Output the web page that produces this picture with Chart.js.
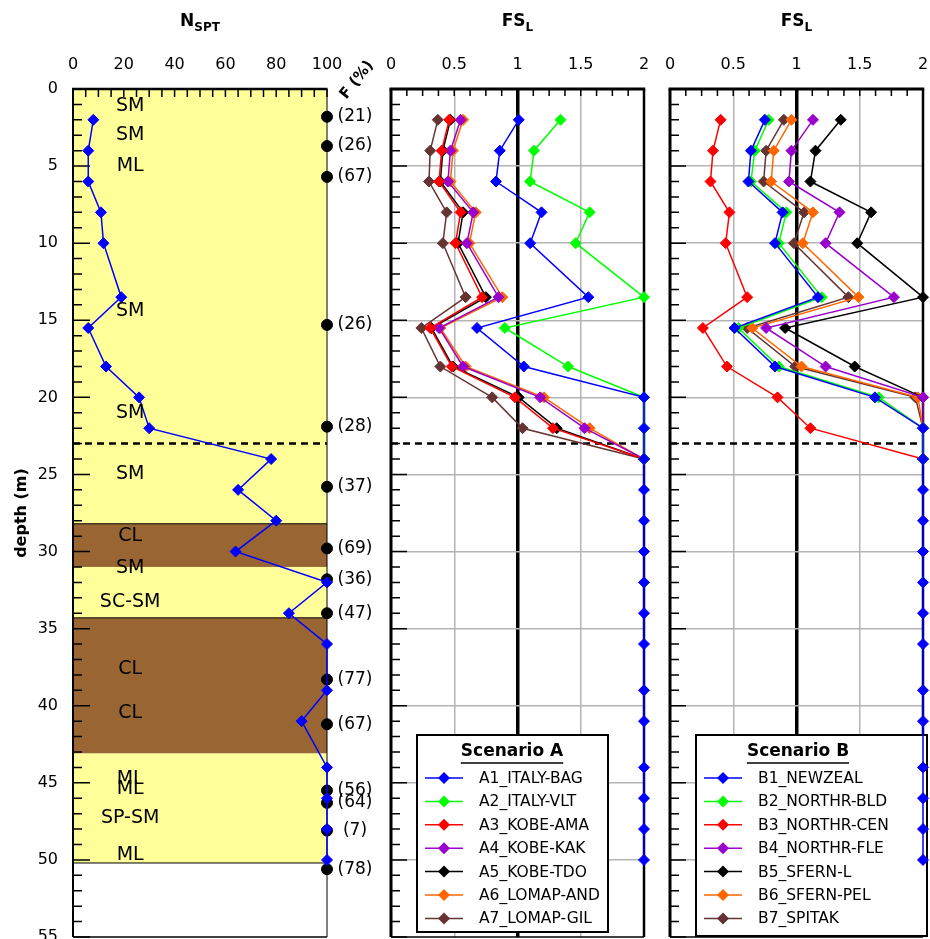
<!DOCTYPE html>
<html>
<head>
<meta charset="utf-8">
<script src="https://cdn.jsdelivr.net/npm/chart.js@4.4.0/dist/chart.umd.min.js"></script>
<style>
  body { margin: 0; background: #fff; }
  #wrap { position: relative; width: 930px; height: 939px; overflow: hidden; }
  #wrap canvas { position: absolute; left: 0; top: 0; }
</style>
</head>
<body>
<div id="wrap">
  <canvas id="c1" width="980" height="980"></canvas>
  <canvas id="c2" width="980" height="980"></canvas>
  <canvas id="c3" width="980" height="980"></canvas>
</div>
<script>
// depths of the SPT / FS_L points (m)
let depths = [2, 4, 6, 8, 10, 13.5, 15.5, 18, 20, 22, 24, 26, 28, 30, 32, 34, 36, 39, 41, 44, 46, 48, 50];
let nspt = [8, 6, 6, 11, 12, 19, 6, 13, 26, 30, 78, 65, 80, 64, 100, 85, 100, 100, 90, 100, 100, 100, 100];

// fines content F (%)
let fDepths = [1.8, 3.7, 5.7, 15.3, 21.9, 25.8, 29.8, 31.8, 34.0, 38.3, 41.2, 45.5, 46.3, 48.1, 50.6];
let fValues = [21, 26, 67, 26, 28, 37, 69, 36, 47, 77, 67, 56, 64, 7, 78];

// soil layers
let layerTop = [0, 28.2, 31.0, 34.3, 43.1];
let layerBottom = [28.2, 31.0, 34.3, 43.1, 50.2];
let layerKind = ['sand', 'clay', 'sand', 'clay', 'sand'];
let soilNames = ['SM', 'SM', 'ML', 'SM', 'SM', 'SM', 'CL', 'SM', 'SC-SM', 'CL', 'CL', 'ML', 'ML', 'SP-SM', 'ML'];
let soilDepths = [1.1, 3.0, 5.0, 14.4, 21.0, 25.0, 29.0, 31.1, 33.25, 37.6, 40.5, 44.75, 45.4, 47.3, 49.7];
let waterTable = 23;

// FS_L, scenario A
let labelsA = ['A1_ITALY-BAG', 'A2_ITALY-VLT', 'A3_KOBE-AMA', 'A4_KOBE-KAK', 'A5_KOBE-TDO', 'A6_LOMAP-AND', 'A7_LOMAP-GIL'];
let a1 = [1.01, 0.86, 0.83, 1.19, 1.10, 1.56, 0.68, 1.05, 2, 2, 2, 2, 2, 2, 2, 2, 2, 2, 2, 2, 2, 2, 2];
let a2 = [1.34, 1.13, 1.10, 1.57, 1.46, 2, 0.90, 1.40, 2, 2, 2];
let a3 = [0.46, 0.40, 0.38, 0.55, 0.51, 0.72, 0.31, 0.48, 0.98, 1.28, 2];
let a4 = [0.55, 0.47, 0.45, 0.65, 0.60, 0.85, 0.38, 0.57, 1.18, 1.53, 2];
let a5 = [0.47, 0.41, 0.39, 0.57, 0.53, 0.75, 0.32, 0.49, 1.01, 1.31, 2];
let a6 = [0.57, 0.49, 0.47, 0.67, 0.62, 0.88, 0.39, 0.59, 1.21, 1.57, 2];
let a7 = [0.37, 0.31, 0.30, 0.44, 0.41, 0.59, 0.24, 0.39, 0.80, 1.04, 2];

// FS_L, scenario B
let labelsB = ['B1_NEWZEAL', 'B2_NORTHR-BLD', 'B3_NORTHR-CEN', 'B4_NORTHR-FLE', 'B5_SFERN-L', 'B6_SFERN-PEL', 'B7_SPITAK'];
let b1 = [0.75, 0.64, 0.62, 0.89, 0.83, 1.17, 0.51, 0.83, 1.62, 2, 2, 2, 2, 2, 2, 2, 2, 2, 2, 2, 2, 2, 2];
let b2 = [0.78, 0.67, 0.64, 0.92, 0.86, 1.20, 0.54, 0.86, 1.65, 2, 2];
let b3 = [0.40, 0.34, 0.32, 0.47, 0.44, 0.61, 0.26, 0.45, 0.85, 1.11, 2];
let b4 = [1.13, 0.96, 0.94, 1.34, 1.23, 1.77, 0.76, 1.23, 2, 2, 2];
let b5 = [1.35, 1.15, 1.11, 1.59, 1.48, 2, 0.91, 1.46, 2, 2, 2];
let b6 = [0.96, 0.82, 0.80, 1.13, 1.05, 1.49, 0.65, 1.04, 1.96, 2, 2];
let b7 = [0.90, 0.76, 0.74, 1.06, 0.98, 1.41, 0.61, 0.99, 1.94, 2, 2];

let xTicksN = [0, 20, 40, 60, 80, 100];
let xTicksFS = [0, 0.5, 1, 1.5, 2];
let yTicks = [0, 5, 10, 15, 20, 25, 30, 35, 40, 45, 50, 55];

let seriesColors = ['#0000ff', '#00ff00', '#ff0000', '#9900cc', '#000000', '#ff6600', '#663333'];
let FONT = "'DejaVu Sans'";
// canvases are bigger than the window so edge labels can be cut like the original
let CANVAS_W = 980;
let CANVAS_H = 980;
let PLOT_BOTTOM = 937;

Chart.defaults.font.family = FONT;
Chart.defaults.color = '#000';

function toPoints(vals) {
	return vals.map((v, i) => ({ x: v, y: depths[i] }));
}

function fsDataset(label, vals, color) {
	return {
		label: label,
		data: toPoints(vals),
		showLine: true,
		borderColor: color,
		backgroundColor: color,
		borderWidth: 1.5,
		pointStyle: 'rectRot',
		pointRadius: 5.5,
		pointBorderWidth: 1,
		clip: false
	};
}

// ---- plugins ----
let soilLayers = {
	id: 'soilLayers',
	beforeDatasetsDraw(chart) {
		let { ctx, chartArea: a, scales: { y } } = chart;
		ctx.save();
		for (let i = 0; i < layerTop.length; i++) {
			let y0 = y.getPixelForValue(layerTop[i]);
			let y1 = y.getPixelForValue(layerBottom[i]);
			ctx.fillStyle = layerKind[i] == 'clay' ? '#996633' : '#ffff99';
			ctx.fillRect(a.left, y0, a.right - a.left, y1 - y0);
		}
		ctx.strokeStyle = '#000';
		ctx.lineWidth = 1;
		[28.2, 34.3, 50.2].forEach(d => {
			let py = y.getPixelForValue(d);
			ctx.beginPath(); ctx.moveTo(a.left, py); ctx.lineTo(a.right, py); ctx.stroke();
		});
		ctx.restore();
	}
};

let innerTicks = {
	id: 'innerTicks',
	beforeDatasetsDraw(chart, args, o) {
		let { ctx, chartArea: a, scales: { x, y } } = chart;
		ctx.save();
		ctx.strokeStyle = '#000';
		ctx.lineWidth = 1.5;
		ctx.beginPath();
		for (let v = x.min; v <= x.max + 1e-9; v += o.xStep) {
			let px = x.getPixelForValue(v);
			ctx.moveTo(px, a.top); ctx.lineTo(px, a.top + o.xLen);
		}
		for (let d = y.min; d <= y.max + 1e-9; d += 1) {
			let py = y.getPixelForValue(d);
			let len = d % 5 == 0 ? o.yMajor : o.yMinor;
			ctx.moveTo(a.left, py); ctx.lineTo(a.left + len, py);
		}
		ctx.stroke();
		ctx.restore();
	}
};

let frame = {
	id: 'frame',
	beforeDatasetsDraw(chart, args, o) {
		let { ctx, chartArea: a } = chart;
		ctx.save();
		ctx.strokeStyle = '#000';
		let side = (w, x0, y0, x1, y1) => {
			ctx.lineWidth = w;
			ctx.beginPath(); ctx.moveTo(x0, y0); ctx.lineTo(x1, y1); ctx.stroke();
		};
		side(o.top, a.left - o.left / 2, a.top, a.right + o.right / 2, a.top);
		side(o.left, a.left, a.top, a.left, a.bottom);
		side(o.right, a.right, a.top, a.right, a.bottom);
		side(o.bottom, a.left, a.bottom, a.right, a.bottom);
		// water table
		let py = chart.scales.y.getPixelForValue(waterTable);
		ctx.setLineDash([7, 5]);
		side(2.5, a.left, py, a.right, py);
		ctx.restore();
	}
};

let panelTitle = {
	id: 'panelTitle',
	afterDraw(chart, args, o) {
		let { ctx, chartArea: a } = chart;
		ctx.save();
		ctx.fillStyle = '#000';
		ctx.textBaseline = 'alphabetic';
		ctx.font = 'bold 17px ' + FONT;
		let w1 = ctx.measureText(o.main).width;
		ctx.font = 'bold 12px ' + FONT;
		let w2 = ctx.measureText(o.sub).width;
		let x0 = (a.left + a.right) / 2 - (w1 + w2) / 2;
		ctx.textAlign = 'left';
		ctx.font = 'bold 17px ' + FONT;
		ctx.fillText(o.main, x0, 26);
		ctx.font = 'bold 12px ' + FONT;
		ctx.fillText(o.sub, x0 + w1, 31);
		ctx.restore();
	}
};

let nsptLabels = {
	id: 'nsptLabels',
	afterDatasetsDraw(chart) {
		let { ctx, chartArea: a, scales: { x, y } } = chart;
		ctx.save();
		ctx.fillStyle = '#000';
		ctx.textAlign = 'center';
		ctx.textBaseline = 'middle';
		ctx.font = '19px ' + FONT;
		soilNames.forEach((s, i) => {
			ctx.fillText(s, x.getPixelForValue(22.5), y.getPixelForValue(soilDepths[i]));
		});
		ctx.font = '17px ' + FONT;
		fValues.forEach((f, i) => {
			ctx.fillText('(' + f + ')', x.getPixelForValue(100) + 28, y.getPixelForValue(fDepths[i]));
		});
		// F (%) header
		ctx.font = 'bold 15px ' + FONT;
		ctx.translate(a.right + 30, a.top - 9);
		ctx.rotate(-0.9);
		ctx.fillText('F (%)', 0, 0);
		ctx.restore();
	}
};

let boxLegend = {
	id: 'boxLegend',
	beforeDatasetsDraw(chart, args, o) {
		let ctx = chart.ctx;
		ctx.save();
		ctx.fillStyle = '#fff';
		ctx.fillRect(o.left, o.top, o.width, o.height);
		ctx.strokeStyle = '#000';
		ctx.lineWidth = 2;
		ctx.strokeRect(o.left, o.top, o.width, o.height);
		ctx.fillStyle = '#000';
		ctx.font = 'bold 17px ' + FONT;
		ctx.textAlign = 'center';
		ctx.textBaseline = 'middle';
		let tx = o.left + o.titleDx;
		ctx.fillText(o.title, tx, o.top + 17);
		let tw = ctx.measureText(o.title).width;
		ctx.lineWidth = 1.5;
		ctx.beginPath(); ctx.moveTo(tx - tw / 2, o.top + 28); ctx.lineTo(tx + tw / 2, o.top + 28); ctx.stroke();
		ctx.font = '15.5px ' + FONT;
		ctx.textAlign = 'left';
		chart.data.datasets.forEach((ds, i) => {
			let yy = o.top + 43 + i * 23.4;
			let cx = o.left + 27;
			ctx.strokeStyle = ds.borderColor;
			ctx.lineWidth = 1.5;
			ctx.beginPath(); ctx.moveTo(o.left + 8, yy); ctx.lineTo(o.left + 46, yy); ctx.stroke();
			ctx.fillStyle = ds.borderColor;
			ctx.beginPath();
			ctx.moveTo(cx, yy - 6); ctx.lineTo(cx + 6, yy); ctx.lineTo(cx, yy + 6); ctx.lineTo(cx - 6, yy);
			ctx.closePath(); ctx.fill();
			ctx.fillStyle = '#000';
			ctx.fillText(ds.label, o.left + 62, yy + 1);
		});
		ctx.restore();
	}
};

function baseOptions(leftW, plotRight) {
	return {
		responsive: false,
		animation: false,
		events: [],
		layout: { padding: { left: 0, top: 0, right: CANVAS_W - plotRight, bottom: CANVAS_H - PLOT_BOTTOM }, autoPadding: false },
		plugins: { legend: { display: false }, tooltip: { enabled: false } },
		scales: {
			x: {
				type: 'linear',
				position: 'top',
				border: { display: false },
				ticks: { font: { size: 16 }, padding: 15, color: '#000', callback: v => String(v) },
				afterFit: s => { s.height = 89; }
			},
			y: {
				type: 'linear',
				reverse: true,
				min: 0,
				max: 55,
				border: { display: false },
				afterBuildTicks: s => { s.ticks = yTicks.map(v => ({ value: v })); },
				afterFit: s => { s.width = leftW; }
			}
		}
	};
}

// ---- panel 1 : N_SPT ----
let opt1 = baseOptions(73, 327);
opt1.scales.x.min = 0;
opt1.scales.x.max = 100;
opt1.scales.x.afterBuildTicks = s => { s.ticks = xTicksN.map(v => ({ value: v })); };
opt1.scales.x.grid = { display: false, drawTicks: false };
opt1.scales.y.grid = { display: false, drawTicks: false };
opt1.scales.y.ticks = { font: { size: 16 }, padding: 15, color: '#000' };
opt1.scales.y.title = { display: true, text: 'depth (m)', font: { size: 16, weight: 'bold' }, padding: { top: 12, bottom: 0 } };
opt1.plugins.innerTicks = { xStep: 5, xLen: 8, yMinor: 9, yMajor: 17 };
opt1.plugins.frame = { top: 2.5, left: 2, right: 1, bottom: 1.5 };
opt1.plugins.panelTitle = { main: 'N', sub: 'SPT' };

new Chart(document.getElementById('c1'), {
	type: 'scatter',
	data: {
		datasets: [{
			label: 'NSPT',
			data: toPoints(nspt),
			showLine: true,
			borderColor: '#0000ff',
			backgroundColor: '#0000ff',
			borderWidth: 1.5,
			pointStyle: 'rectRot',
			pointRadius: 5.5,
			pointBorderWidth: 1,
			clip: false
		}, {
			label: 'F (%)',
			data: fDepths.map((d, i) => ({ x: 100, y: d })),
			showLine: false,
			borderColor: '#000',
			backgroundColor: '#000',
			pointStyle: 'circle',
			pointRadius: 5.5,
			clip: false
		}]
	},
	options: opt1,
	plugins: [soilLayers, frame, innerTicks, nsptLabels, panelTitle]
});

// ---- panels 2 and 3 : FS_L ----
function fsOptions(leftW, plotRight, legend) {
	let o = baseOptions(leftW, plotRight);
	o.scales.x.min = 0;
	o.scales.x.max = 2;
	o.scales.x.afterBuildTicks = s => { s.ticks = xTicksFS.map(v => ({ value: v })); };
	o.scales.x.grid = {
		drawTicks: false,
		color: c => c.tick.value == 1 ? '#000' : (c.tick.value == 0.5 || c.tick.value == 1.5 ? '#b4b4b4' : 'rgba(0,0,0,0)'),
		lineWidth: c => c.tick.value == 1 ? 3.5 : 1.5
	};
	o.scales.y.ticks = { display: false };
	o.scales.y.grid = {
		drawTicks: false,
		color: c => (c.tick.value > 0 && c.tick.value < 55) ? '#b4b4b4' : 'rgba(0,0,0,0)',
		lineWidth: 1.5
	};
	o.plugins.innerTicks = { xStep: 0.125, xLen: 7, yMinor: 9, yMajor: 16 };
	o.plugins.frame = { top: 3, left: 3, right: 2.5, bottom: 1.5 };
	o.plugins.panelTitle = { main: 'FS', sub: 'L' };
	o.plugins.boxLegend = legend;
	return o;
}

let valsA = [a1, a2, a3, a4, a5, a6, a7];
new Chart(document.getElementById('c2'), {
	type: 'scatter',
	data: { datasets: valsA.map((v, i) => fsDataset(labelsA[i], v, seriesColors[i])) },
	options: fsOptions(391, 644, { title: 'Scenario A', left: 417, top: 735, width: 191, height: 197, titleDx: 95 }),
	plugins: [frame, boxLegend, innerTicks, panelTitle]
});

let valsB = [b1, b2, b3, b4, b5, b6, b7];
new Chart(document.getElementById('c3'), {
	type: 'scatter',
	data: { datasets: valsB.map((v, i) => fsDataset(labelsB[i], v, seriesColors[i])) },
	options: fsOptions(670, 923, { title: 'Scenario B', left: 696, top: 735, width: 231, height: 201, titleDx: 102 }),
	plugins: [frame, boxLegend, innerTicks, panelTitle]
});
</script>
</body>
</html>
